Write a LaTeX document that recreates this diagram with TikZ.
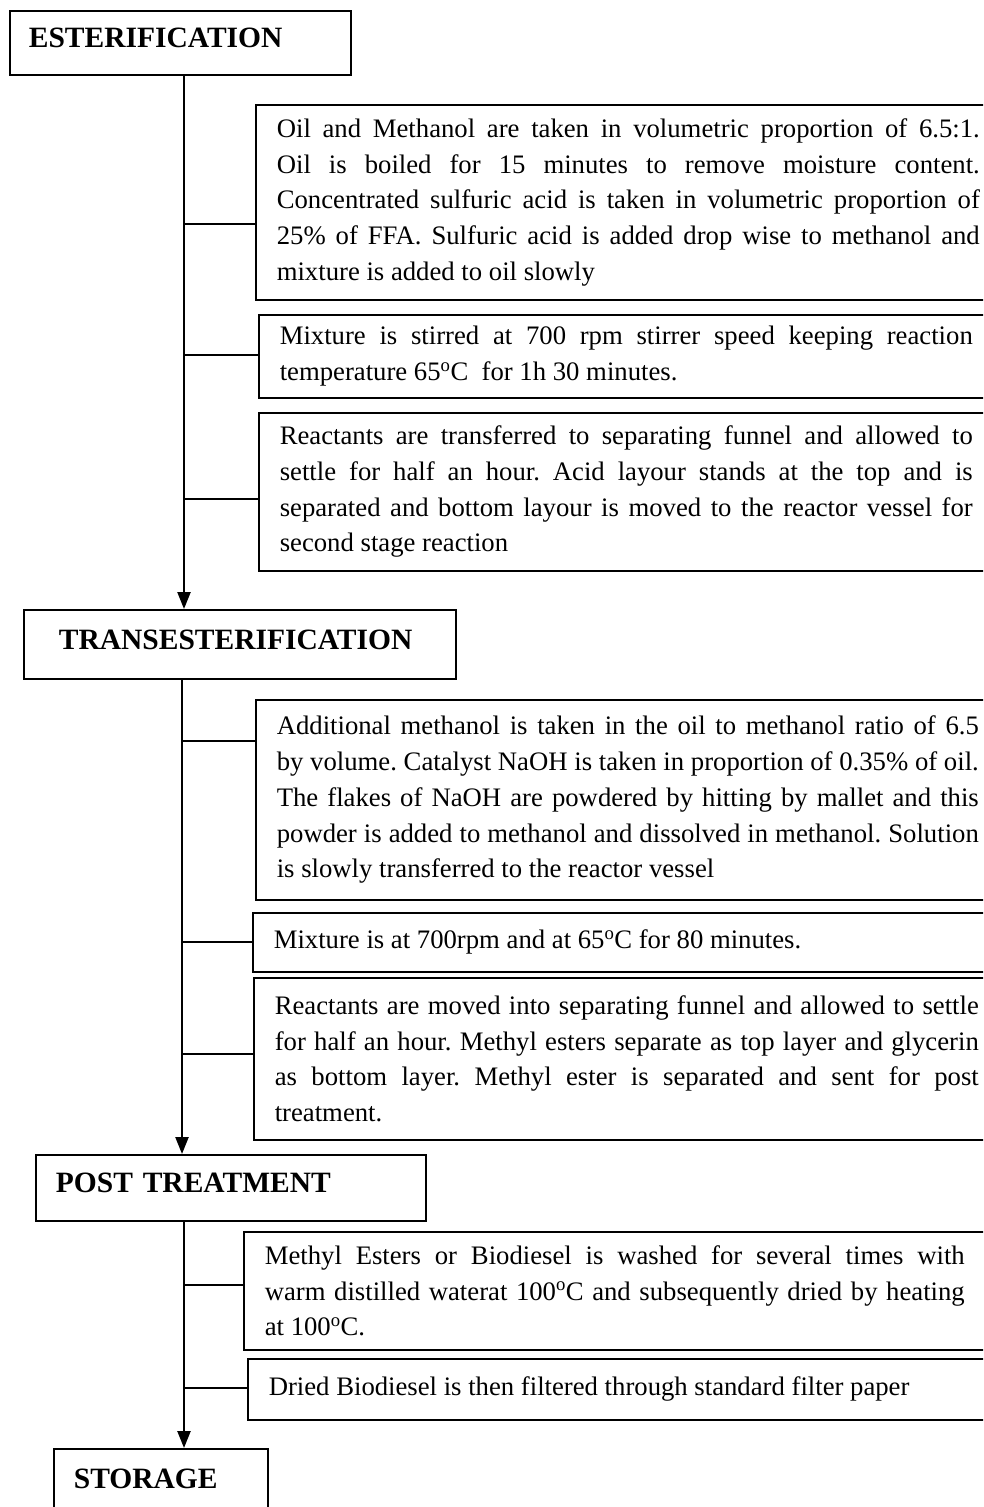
\documentclass[tikz,border=0pt]{standalone}
\usepackage{fontspec}
\setmainfont{Liberation Serif}
\usetikzlibrary{arrows.meta}
\newcommand\rs{\spaceskip=0pt\xspaceskip=0pt\frenchspacing}
\newcommand\JLine[2]{\makebox[#1pt][s]{\rs #2}}
\newcommand\dg{\textsuperscript{o}}
\begin{document}
\begin{tikzpicture}[x=1pt,y=-1pt,
  titlebox/.style={draw, line width=1.8pt, anchor=north west, align=left,
    font=\fontsize{29.5}{34}\selectfont\bfseries, text height=19.5pt, text depth=10pt, inner ysep=0pt},
  stepbox/.style={draw, line width=1.6pt, anchor=north west, align=left,
    font=\fontsize{26.7}{35.7}\selectfont, inner xsep=21pt, inner ysep=0pt},
  mainline/.style={line width=2.4pt, -{Triangle[length=17pt,width=13pt]}},
  conn/.style={line width=1.6pt}]
\useasboundingbox (0,0) rectangle (983,1507);
\clip (0,0) rectangle (983,1507);

% stage boxes
\node[titlebox, inner xsep=19pt, text width=303pt, minimum height=64pt] (E) at (9,10) {ESTERIFICATION};
\node[titlebox, inner xsep=35pt, text width=362pt, minimum height=69pt] (T) at (23,609) {TRANSESTERIFICATION};
\node[titlebox, inner xsep=20pt, text width=350pt, minimum height=66pt] (P) at (35,1154) {POST TREATMENT};
\node[titlebox, inner xsep=20pt, text width=174pt, minimum height=70pt] (S) at (53,1448) {STORAGE};

% step boxes
\node[stepbox, text width=713pt, minimum height=195pt] (B1) at (255,104) {\rs
\JLine{703}{Oil and Methanol are taken in volumetric proportion of 6.5:1.}\\
\JLine{703}{Oil is boiled for 15 minutes to remove moisture content.}\\
\JLine{703}{Concentrated sulfuric acid is taken in volumetric proportion of}\\
\JLine{703}{25\% of FFA. Sulfuric acid is added drop wise to methanol and}\\
mixture is added to oil slowly};
\node[stepbox, text width=710pt, minimum height=83pt] (B2) at (258,314) {\rs
\JLine{693}{Mixture is stirred at 700 rpm stirrer speed keeping reaction}\\
temperature 65\dg C\ \ for 1h 30 minutes.};
\node[stepbox, text width=710pt, minimum height=158pt] (B3) at (258,412) {\rs
\JLine{693}{Reactants are transferred to separating funnel and allowed to}\\
\JLine{693}{settle for half an hour. Acid layour stands at the top and is}\\
\JLine{693}{separated and bottom layour is moved to the reactor vessel for}\\
second stage reaction};
\node[stepbox, text width=713pt, minimum height=200pt] (B4) at (255,699) {\rs
\JLine{702}{Additional methanol is taken in the oil to methanol ratio of 6.5}\\
\JLine{702}{by volume. Catalyst NaOH is taken in proportion of 0.35\% of oil.}\\
\JLine{702}{The flakes of NaOH are powdered by hitting by mallet and this}\\
\JLine{702}{powder is added to methanol and dissolved in methanol. Solution}\\
is slowly transferred to the reactor vessel};
\node[stepbox, text width=716pt, minimum height=59pt] (B5) at (252,912) {\rs
Mixture is at 700rpm and at 65\dg C for 80 minutes.};
\node[stepbox, text width=715pt, minimum height=162pt] (B6) at (253,977) {\rs
\JLine{704}{Reactants are moved into separating funnel and allowed to settle}\\
\JLine{704}{for half an hour. Methyl esters separate as top layer and glycerin}\\
\JLine{704}{as bottom layer. Methyl ester is separated and sent for post}\\
treatment.};
\node[stepbox, text width=725pt, minimum height=118pt] (B7) at (243,1231) {\rs
\JLine{700}{Methyl Esters or Biodiesel is washed for several times with}\\
\JLine{700}{warm distilled waterat 100\dg C and subsequently dried by heating}\\
at 100\dg C.};
\node[stepbox, text width=721pt, minimum height=61pt] (B8) at (247,1358) {\rs
Dried Biodiesel is then filtered through standard filter paper};

% main flow lines
\coordinate (x1) at (184,0);
\coordinate (x2) at (182,0);
\coordinate (x3) at (184,0);
\draw[mainline] (E.south -| x1) -- (T.north -| x1);
\draw[mainline] (T.south -| x2) -- (P.north -| x2);
\draw[mainline] (P.south -| x3) -- (S.north -| x3);

% branch connectors
\coordinate (j1) at (184,224);
\coordinate (j2) at (184,355);
\coordinate (j3) at (184,499);
\coordinate (j4) at (182,741);
\coordinate (j5) at (182,942);
\coordinate (j6) at (182,1054);
\coordinate (j7) at (184,1285);
\coordinate (j8) at (184,1388);
\draw[conn] (j1) -- (j1 -| B1.west);
\draw[conn] (j2) -- (j2 -| B2.west);
\draw[conn] (j3) -- (j3 -| B3.west);
\draw[conn] (j4) -- (j4 -| B4.west);
\draw[conn] (j5) -- (j5 -| B5.west);
\draw[conn] (j6) -- (j6 -| B6.west);
\draw[conn] (j7) -- (j7 -| B7.west);
\draw[conn] (j8) -- (j8 -| B8.west);
\end{tikzpicture}
\end{document}
